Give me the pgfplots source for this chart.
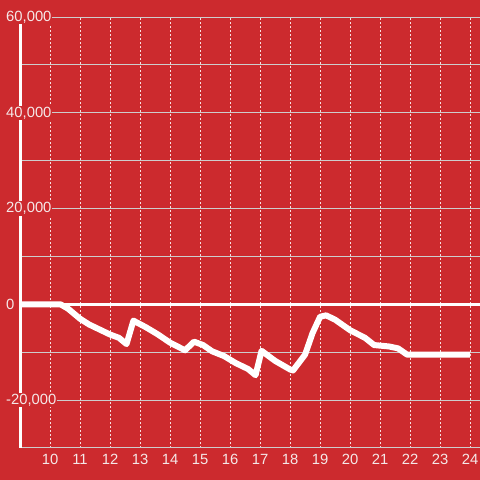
\documentclass[border=0pt]{standalone}
\usepackage{pgfplots}
\pgfplotsset{compat=1.18}
\usepackage{fontspec}
\setmainfont{Liberation Sans}
\definecolor{bg}{RGB}{204,42,46}
\definecolor{gridc}{RGB}{205,205,205}
\definecolor{lab}{RGB}{245,232,232}
\begin{document}
\begin{tikzpicture}[x=1pt,y=1pt]
\fill[bg] (0,0) rectangle (480,480);
\useasboundingbox (0,0) rectangle (480,480);
\begin{axis}[
  at={(20pt,32pt)}, anchor=south west,
  scale only axis, width=460pt, height=431pt,
  xmin=9, xmax=24.33, ymin=-30000, ymax=60000,
  xtick={10,...,24},
  ytick={-20000,0,20000,40000,60000},
  minor ytick={-10000,10000,30000,50000},
  major tick length=0pt, minor tick length=0pt,
  axis x line*=bottom, axis y line*=left,
  x axis line style={gridc, line width=1pt, -},
  y axis line style={white, line width=3pt, -},
  xmajorgrids, ymajorgrids, yminorgrids,
  major x grid style={white!85!bg, dash pattern=on 2pt off 2pt, line width=0.8pt},
  major y grid style={gridc, line width=0.8pt},
  minor y grid style={gridc, line width=0.8pt},
  /pgf/number format/assume math mode=true,
  /pgf/number format/1000 sep={,},
  scaled y ticks=false,
  tick label style={font=\fontsize{14.8}{16}\selectfont, text=lab},
  yticklabel style={anchor=west, fill=bg, inner sep=1pt, xshift=-15pt},
  xticklabel style={yshift=-3pt},
  clip=false,
]
\draw[white, line width=3pt] (axis cs:9,0) -- (axis cs:24.33,0);
\addplot[white, line width=6pt, line join=round, line cap=butt] coordinates {
(9,0) (10.35,0) (10.6,-900) (11,-3000) (11.3,-4200) (11.5,-4800) (12,-6300) (12.3,-7000)
(12.55,-8300) (12.78,-3400) (13.2,-4800) (13.6,-6300) (14,-8000) (14.5,-9600)
(14.8,-7800) (15.1,-8500) (15.4,-9800) (15.8,-10800) (16.2,-12300) (16.6,-13500)
(16.85,-14800) (17.05,-9700) (17.5,-11800) (18,-13600) (18.1,-13800) (18.5,-10500)
(18.75,-6000) (19.0,-2600) (19.2,-2300) (19.5,-3200) (20,-5400) (20.5,-7000)
(20.8,-8500) (21.3,-8800) (21.6,-9200) (21.9,-10500) (24,-10500)
};
\end{axis}
\end{tikzpicture}
\end{document}
